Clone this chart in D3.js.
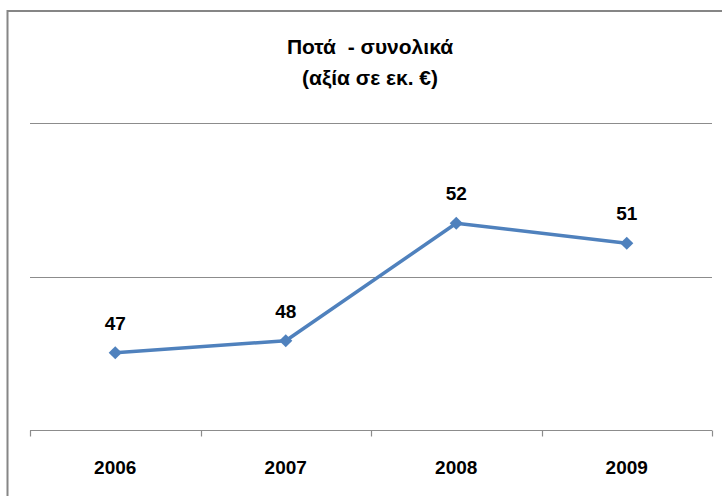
<!DOCTYPE html>
<html>
<head>
<meta charset="utf-8">
<script src="https://cdn.jsdelivr.net/npm/d3@7"></script>
<style>
  body { margin: 0; background: #fff; }
  svg { display: block; }
  text { font-family: "Liberation Sans", Arial, sans-serif; font-weight: bold; fill: #000; white-space: pre; }
</style>
</head>
<body>
<div id="chart"></div>
<script>
var titleLines = ["Ποτά  - συνολικά", "(αξία σε εκ. €)"];
var years = ["2006", "2007", "2008", "2009"];
var values = [47.02, 47.49, 52.08, 51.30];
var valueLabels = ["47", "48", "52", "51"];
var yTicks = [44, 50, 56];

var chart = function(){
  var width = 722, height = 496;
  var plotLeft = 30, plotRight = 712, plotTop = 123, plotBottom = 430;

  var svg = d3.select('#chart').append('svg')
    .attr('width', width)
    .attr('height', height);

  // chart frame (right/bottom edges fall outside the picture)
  svg.append('rect')
    .attr('x', 7.5).attr('y', 11)
    .attr('width', 730).attr('height', 500)
    .attr('fill', 'none')
    .attr('stroke', '#868686')
    .attr('stroke-width', 2);

  var x = d3.scaleBand().domain(years).range([plotLeft, plotRight]);
  var y = d3.scaleLinear().domain([yTicks[0], yTicks[yTicks.length - 1]]).range([plotBottom, plotTop]);

  // gridlines
  svg.selectAll('.grid').data(yTicks.slice(1)).enter().append('line')
    .attr('class', 'grid')
    .attr('x1', plotLeft).attr('x2', plotRight)
    .attr('y1', function(d){ return Math.round(y(d)) + 0.5; })
    .attr('y2', function(d){ return Math.round(y(d)) + 0.5; })
    .attr('stroke', '#8c8c8c')
    .attr('stroke-width', 1.2);

  // x axis
  var xAxis = svg.append('g')
    .attr('transform', 'translate(0,' + (plotBottom + 0.5) + ')');
  xAxis.append('line')
    .attr('x1', plotLeft).attr('x2', plotRight)
    .attr('stroke', '#8c8c8c').attr('stroke-width', 1.2);
  var tickPos = years.map(function(d){ return x(d); }).concat([x.range()[1]]);
  xAxis.selectAll('.tick').data(tickPos).enter().append('line')
    .attr('x1', function(d){ return Math.round(d) + 0.5; })
    .attr('x2', function(d){ return Math.round(d) + 0.5; })
    .attr('y1', 0).attr('y2', 6)
    .attr('stroke', '#8c8c8c').attr('stroke-width', 1.2);
  xAxis.selectAll('.lbl').data(years).enter().append('text')
    .attr('x', function(d){ return x(d) + x.bandwidth()/2; })
    .attr('y', 43)
    .attr('text-anchor', 'middle')
    .style('font-size', '19px')
    .text(function(d){ return d; });

  // series line
  var cx = function(i){ return x(years[i]) + x.bandwidth()/2; };
  var line = d3.line()
    .x(function(d, i){ return cx(i); })
    .y(function(d){ return y(d); });

  svg.append('path')
    .datum(values)
    .attr('d', line)
    .attr('fill', 'none')
    .attr('stroke', '#4f81bd')
    .attr('stroke-width', 3.5)
    .attr('stroke-linejoin', 'round');

  svg.selectAll('.marker').data(values).enter().append('path')
    .attr('class', 'marker')
    .attr('d', d3.symbol().type(d3.symbolDiamond2).size(110))
    .attr('transform', function(d, i){ return 'translate(' + cx(i) + ',' + y(d) + ')'; })
    .attr('fill', '#4f81bd');

  svg.selectAll('.vlabel').data(values).enter().append('text')
    .attr('x', function(d, i){ return cx(i); })
    .attr('y', function(d){ return y(d) - 23; })
    .attr('text-anchor', 'middle')
    .style('font-size', '19px')
    .text(function(d, i){ return valueLabels[i]; });

  // title
  svg.selectAll('.title').data(titleLines).enter().append('text')
    .attr('x', 370)
    .attr('y', function(d, i){ return 54 + i * 31; })
    .attr('text-anchor', 'middle')
    .style('font-size', '21px')
    .text(function(d){ return d; });
};

chart();
</script>
</body>
</html>
